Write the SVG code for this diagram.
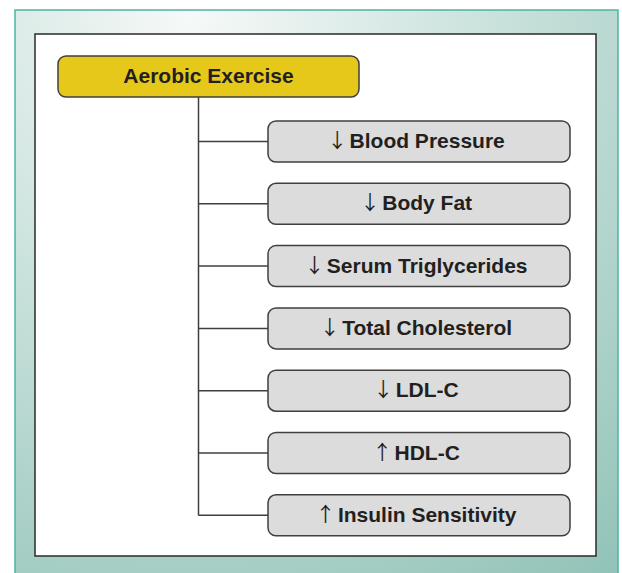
<svg xmlns="http://www.w3.org/2000/svg" width="622" height="573" viewBox="0 0 622 573">
<defs>
<radialGradient id="bg" gradientUnits="userSpaceOnUse" cx="190" cy="15" r="700">
<stop offset="0" stop-color="#f6f9f8"/>
<stop offset="0.45" stop-color="#c8e1db"/>
<stop offset="1" stop-color="#92c3b8"/>
</radialGradient>
<style>
.txt{font-family:"Liberation Sans",Arial,sans-serif;font-weight:bold;font-size:21px;fill:#231f20;text-anchor:middle}
.arr{font-family:"Noto Sans CJK SC","Liberation Sans",sans-serif;font-weight:normal;font-size:20px;letter-spacing:-3.5px}
.box{fill:#dcdcdd;stroke:#3f3f3f;stroke-width:1.5}
.conn{fill:none;stroke:#3f3f3f;stroke-width:1.5}
</style>
</defs>
<rect x="15" y="10" width="603" height="570" fill="url(#bg)" stroke="#4fb3a1" stroke-width="1.5"/>
<rect x="35" y="34" width="561" height="522" fill="#ffffff" stroke="#2a2a2a" stroke-width="1.5"/>
<g id="connectors">
<path class="conn" d="M198.5 97 V515.5"/>
<path class="conn" d="M198.5 141.5 H268"/>
<path class="conn" d="M198.5 203.8 H268"/>
<path class="conn" d="M198.5 266.1 H268"/>
<path class="conn" d="M198.5 328.4 H268"/>
<path class="conn" d="M198.5 390.7 H268"/>
<path class="conn" d="M198.5 453 H268"/>
<path class="conn" d="M198.5 515.3 H268"/>
</g>
<g id="aerobic">
<rect x="58" y="56" width="301" height="41" rx="8" fill="#e6c81a" stroke="#3f3f3f" stroke-width="1.5"/>
<text class="txt" x="208.5" y="83">Aerobic Exercise</text>
</g>
<g id="bp">
<rect class="box" x="268" y="121" width="302" height="41" rx="8"/>
<text class="txt" x="416" y="148"><tspan class="arr">↓</tspan> Blood Pressure</text>
</g>
<g id="fat">
<rect class="box" x="268" y="183.3" width="302" height="41" rx="8"/>
<text class="txt" x="416" y="210.3"><tspan class="arr">↓</tspan> Body Fat</text>
</g>
<g id="tg">
<rect class="box" x="268" y="245.6" width="302" height="41" rx="8"/>
<text class="txt" x="416" y="272.6"><tspan class="arr">↓</tspan> Serum Triglycerides</text>
</g>
<g id="tc">
<rect class="box" x="268" y="307.9" width="302" height="41" rx="8"/>
<text class="txt" x="416" y="334.9"><tspan class="arr">↓</tspan> Total Cholesterol</text>
</g>
<g id="ldl">
<rect class="box" x="268" y="370.2" width="302" height="41" rx="8"/>
<text class="txt" x="416" y="397.2"><tspan class="arr">↓</tspan> LDL-C</text>
</g>
<g id="hdl">
<rect class="box" x="268" y="432.5" width="302" height="41" rx="8"/>
<text class="txt" x="416" y="459.5"><tspan class="arr">↑</tspan> HDL-C</text>
</g>
<g id="ins">
<rect class="box" x="268" y="494.8" width="302" height="41" rx="8"/>
<text class="txt" x="416" y="521.8"><tspan class="arr">↑</tspan> Insulin Sensitivity</text>
</g>
</svg>
